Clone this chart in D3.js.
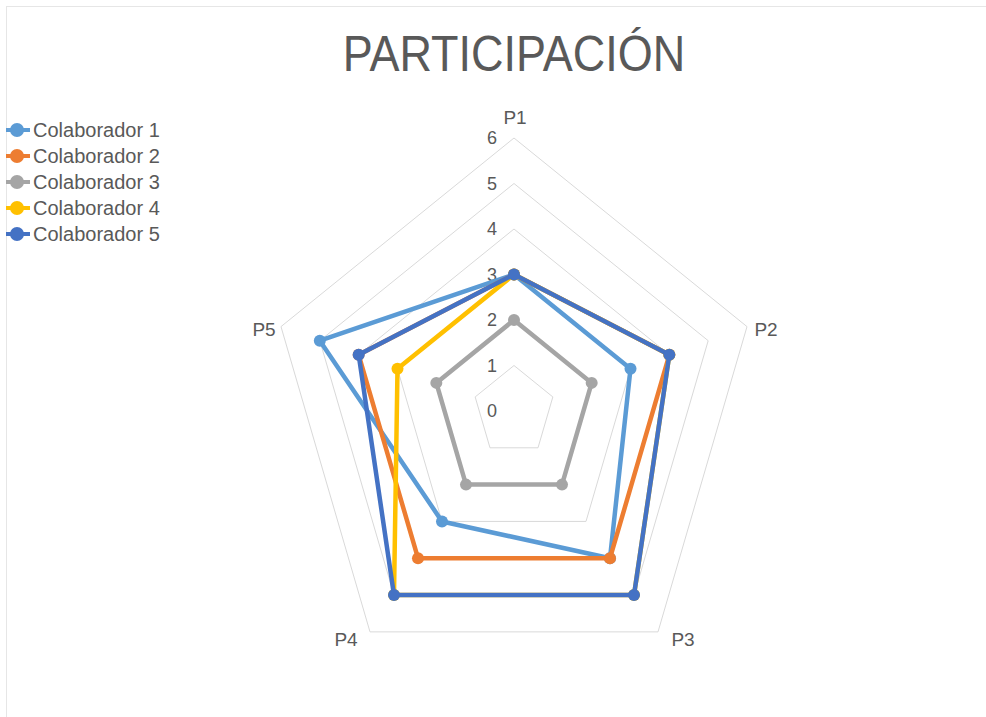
<!DOCTYPE html>
<html>
<head>
<meta charset="utf-8">
<script src="https://cdn.jsdelivr.net/npm/d3@7"></script>
<style>
  html, body { margin: 0; padding: 0; background: #fff; }
  svg { display: block; }
  text { font-family: "Liberation Sans", Arial, sans-serif; fill: #595959; }
</style>
</head>
<body>
<svg id="chart" width="986" height="717"></svg>
<script>
// Radar chart: participation per question for five collaborators
const axes = ["P1", "P2", "P3", "P4", "P5"];
const seriesNames = ["Colaborador 1", "Colaborador 2", "Colaborador 3", "Colaborador 4", "Colaborador 5"];
const colaborador1 = [3, 3, 4, 3, 5];
const colaborador2 = [3, 4, 4, 4, 4];
const colaborador3 = [2, 2, 2, 2, 2];
const colaborador4 = [3, 4, 5, 5, 3];
const colaborador5 = [3, 4, 5, 5, 4];
const seriesValues = [colaborador1, colaborador2, colaborador3, colaborador4, colaborador5];
const colors = ["#5B9BD5", "#ED7D31", "#A5A5A5", "#FFC000", "#4472C4"];
const ticks = [0, 1, 2, 3, 4, 5, 6];

const svg = d3.select("#chart");
const W = 986, H = 717;
const cx = 514, cy = 411;

// chart area frame
svg.append("rect").attr("x", 6.5).attr("y", 6.5).attr("width", W + 10).attr("height", H + 10)
  .attr("fill", "none").attr("stroke", "#e6e6e6").attr("stroke-width", 1);

// The plot is slightly taller than wide, so use separate horizontal and vertical radius scales
const rx = d3.scaleLinear().domain([0, 6]).range([0, 245]);
const ry = d3.scaleLinear().domain([0, 6]).range([0, 273]);
const angle = d3.scalePoint().domain(axes).range([0, 2 * Math.PI * 4 / 5]);

function pt(axis, v) {
  const a = angle(axis);
  return [cx + rx(v) * Math.sin(a), cy - ry(v) * Math.cos(a)];
}

// grid pentagons
const line = d3.line().curve(d3.curveLinearClosed);
ticks.filter(t => t > 0).forEach(t => {
  svg.append("path")
    .attr("d", line(axes.map(a => pt(a, t))))
    .attr("fill", "none").attr("stroke", "#d9d9d9").attr("stroke-width", 1);
});

// tick labels along P1 axis
svg.selectAll(".tick").data(ticks).enter().append("text")
  .attr("x", cx - 22).attr("y", t => cy - ry(t) + 6)
  .attr("text-anchor", "middle")
  .attr("font-size", 18)
  .text(t => t);

// axis labels
const labelPos = {
  P1: [515, 124, "middle"],
  P2: [766, 336, "middle"],
  P3: [683, 646, "middle"],
  P4: [346, 646, "middle"],
  P5: [264, 336, "middle"]
};
axes.forEach(a => {
  svg.append("text").attr("x", labelPos[a][0]).attr("y", labelPos[a][1])
    .attr("text-anchor", labelPos[a][2]).attr("font-size", 19).text(a);
});

// series
seriesValues.forEach((vals, i) => {
  const pts = axes.map((a, j) => pt(a, vals[j]));
  svg.append("path").attr("d", line(pts))
    .attr("fill", "none").attr("stroke", colors[i]).attr("stroke-width", 4.5)
    .attr("stroke-linejoin", "round");
  svg.selectAll(null).data(pts).enter().append("circle")
    .attr("cx", d => d[0]).attr("cy", d => d[1]).attr("r", 6)
    .attr("fill", colors[i]);
});

// title
svg.append("text").attr("x", 514).attr("y", 71).attr("text-anchor", "middle")
  .attr("font-size", 45)
  .attr("transform", "translate(0,71) scale(1,1.1) translate(0,-71)")
  .text("PARTICIPACIÓN");

// legend
const legend = svg.append("g");
seriesNames.forEach((name, i) => {
  const y = 130 + i * 26;
  legend.append("line").attr("x1", 6).attr("x2", 30).attr("y1", y).attr("y2", y)
    .attr("stroke", colors[i]).attr("stroke-width", 4);
  legend.append("circle").attr("cx", 17).attr("cy", y).attr("r", 7).attr("fill", colors[i]);
  legend.append("text").attr("x", 33).attr("y", y + 7).attr("font-size", 20).text(name);
});
</script>
</body>
</html>
